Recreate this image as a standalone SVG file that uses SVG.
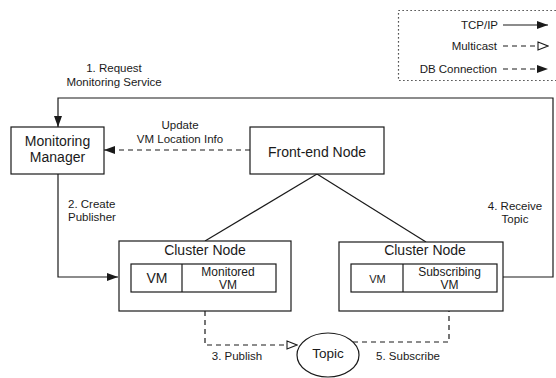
<svg xmlns="http://www.w3.org/2000/svg" width="556" height="378" viewBox="0 0 556 378">
<style>
text{font-family:"Liberation Sans",Arial,sans-serif;fill:#1a1a1a}
.n{font-size:14px;text-anchor:middle}
.s{font-size:11.5px;text-anchor:middle}
.v{font-size:12px;text-anchor:middle}
.l{font-size:11.5px;text-anchor:end}
.box{fill:#fff;stroke:#1a1a1a;stroke-width:1.2}
.ln{fill:none;stroke:#1a1a1a;stroke-width:1.2}
.d{stroke-dasharray:5,4}
</style>
<defs>
<marker id="f" markerWidth="12" markerHeight="10" refX="11" refY="5" orient="auto" markerUnits="userSpaceOnUse"><path d="M0,1 L11,5 L0,9 Z" fill="#1a1a1a"/></marker>
<marker id="o" markerWidth="12" markerHeight="10" refX="11" refY="5" orient="auto" markerUnits="userSpaceOnUse"><path d="M1,1 L11,5 L1,9 Z" fill="#fff" stroke="#1a1a1a" stroke-width="1.1"/></marker>
</defs>
<rect width="556" height="378" fill="#fff"/>
<g id="legend">
<rect x="398.5" y="10.5" width="170" height="70" fill="none" stroke="#1a1a1a" stroke-width="1.2" stroke-dasharray="1.2,2.8"/>
<text class="l" x="498" y="29">TCP/IP</text>
<text class="l" x="497" y="50">Multicast</text>
<text class="l" x="497" y="73">DB Connection</text>
<line class="ln" x1="503" y1="25" x2="548" y2="25" marker-end="url(#f)"/>
<line class="ln d" x1="503" y1="46" x2="548" y2="46" marker-end="url(#o)"/>
<line class="ln d" x1="503" y1="69" x2="548" y2="69" marker-end="url(#f)"/>
</g>
<g id="connectors">
<path class="ln" d="M497,277 L553,277 L553,98 L58,98 L58,127" marker-end="url(#f)" id="c-receive"/>
<path class="ln d" d="M250,150 L104,150" marker-end="url(#f)" id="c-update"/>
<path class="ln" d="M58,174 L58,277 L118,277" marker-end="url(#f)" id="c-create"/>
<path class="ln" d="M317,174 L205,241" id="c-fe-left"/>
<path class="ln" d="M317,174 L426,242" id="c-fe-right"/>
<path class="ln d" d="M205,311 L205,345 L297,345" marker-end="url(#o)" id="c-publish"/>
<path class="ln d" d="M353,342 L449,342 L449,292" marker-end="url(#o)" id="c-subscribe"/>
<text class="s" x="114" y="72">1. Request</text>
<text class="s" x="114" y="86">Monitoring Service</text>
<text class="s" x="180" y="129">Update</text>
<text class="s" x="180" y="143">VM Location Info</text>
<text x="68" y="208" style="font-size:11.5px">2. Create</text>
<text x="68" y="221" style="font-size:11.5px">Publisher</text>
<text class="s" x="515" y="210">4. Receive</text>
<text class="s" x="515" y="223">Topic</text>
<text class="s" x="237" y="360">3. Publish</text>
<text class="s" x="408" y="360">5. Subscribe</text>
</g>
<g id="monitoring-manager">
<rect class="box" x="11" y="127" width="93" height="47"/>
<text class="n" x="57.5" y="146">Monitoring</text>
<text class="n" x="57.5" y="162">Manager</text>
</g>
<g id="front-end-node">
<rect class="box" x="250" y="127" width="134" height="47"/>
<text class="n" x="317" y="157">Front-end Node</text>
</g>
<g id="cluster-node-left">
<rect class="box" x="119" y="241" width="172" height="70"/>
<text class="n" x="205" y="255">Cluster Node</text>
<rect class="box" x="131" y="264" width="145" height="28"/>
<line class="ln" x1="182" y1="264" x2="182" y2="292"/>
<text class="n" x="157" y="283">VM</text>
<text class="v" x="228" y="276">Monitored</text>
<text class="v" x="228" y="289">VM</text>
</g>
<g id="cluster-node-right">
<rect class="box" x="339" y="242" width="164" height="69"/>
<text class="n" x="425" y="255">Cluster Node</text>
<rect class="box" x="351" y="264" width="146" height="28"/>
<line class="ln" x1="403" y1="264" x2="403" y2="292"/>
<text class="s" x="377.5" y="283" style="font-size:11px">VM</text>
<text class="v" x="449.5" y="276">Subscribing</text>
<text class="v" x="449.5" y="289">VM</text>
</g>
<g id="topic">
<ellipse class="box" cx="328" cy="355" rx="31" ry="22"/>
<text class="n" x="328" y="358" style="font-size:13.5px">Topic</text>
</g>
</svg>
